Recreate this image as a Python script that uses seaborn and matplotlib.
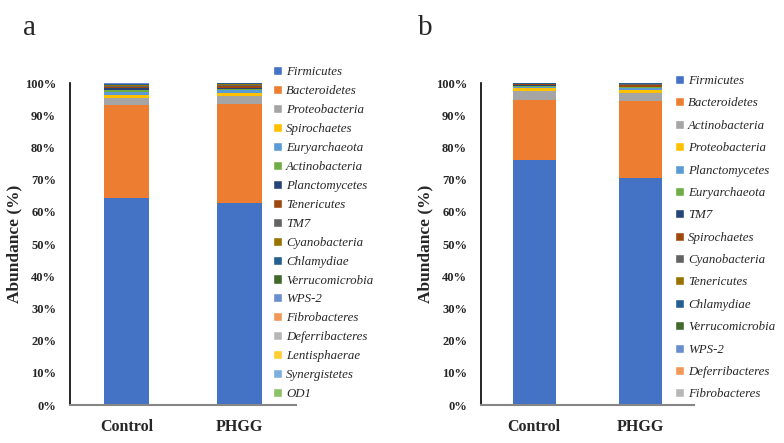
import matplotlib
matplotlib.use('Agg')
import numpy as np
import pandas as pd
import matplotlib.pyplot as plt
import seaborn as sns
from matplotlib.patches import Patch
from matplotlib.ticker import MultipleLocator, PercentFormatter

# groups on the x axis
groups = ['Control', 'PHGG']

# panel a: relative abundance (%) of each phylum
phyla_a = ['Firmicutes', 'Bacteroidetes', 'Proteobacteria', 'Spirochaetes', 'Euryarchaeota',
           'Actinobacteria', 'Planctomycetes', 'Tenericutes', 'TM7', 'Cyanobacteria',
           'Chlamydiae', 'Verrucomicrobia', 'WPS-2', 'Fibrobacteres', 'Deferribacteres',
           'Lentisphaerae', 'Synergistetes', 'OD1']
control_a = [64.4, 28.8, 2.1, 1.0, 0.8, 0.7, 0.5, 0.4, 0.5, 0.3, 0.2, 0.1,
             0.06, 0.05, 0.04, 0.03, 0.01, 0.01]
phgg_a = [62.6, 31.0, 2.5, 0.8, 0.8, 0.5, 0.3, 0.6, 0.4, 0.3, 0.1, 0.05,
          0.02, 0.01, 0.01, 0.005, 0.003, 0.002]

# panel b
phyla_b = ['Firmicutes', 'Bacteroidetes', 'Actinobacteria', 'Proteobacteria', 'Planctomycetes',
           'Euryarchaeota', 'TM7', 'Spirochaetes', 'Cyanobacteria', 'Tenericutes',
           'Chlamydiae', 'Verrucomicrobia', 'WPS-2', 'Deferribacteres', 'Fibrobacteres']
control_b = [76.1, 18.6, 2.9, 0.8, 0.4, 0.3, 0.3, 0.2, 0.1, 0.1, 0.1, 0.05,
             0.03, 0.01, 0.01]
phgg_b = [70.5, 23.9, 2.5, 0.9, 0.5, 0.4, 0.2, 0.5, 0.2, 0.2, 0.1, 0.05,
          0.03, 0.01, 0.01]

# Excel-like series colours, in series order
office = ['#4472C4', '#ED7D31', '#A5A5A5', '#FFC000', '#5B9BD5', '#70AD47',
          '#264478', '#9E480E', '#636363', '#997300', '#255E91', '#43682B',
          '#698ED0', '#F1975A', '#B7B7B7', '#FFCD33', '#7CAFDD', '#8CC168']

sns.set_style('white')
plt.rcParams['font.family'] = ['Liberation Serif', 'DejaVu Serif']

W, H = 784, 443
fig = plt.figure(figsize=(W / 100, H / 100), dpi=100)
ax_a = fig.add_axes([70 / W, 38 / H, 226 / W, 322 / H])
ax_b = fig.add_axes([481 / W, 38 / H, 213 / W, 322 / H])


def stacked(ax, phyla, control, phgg, leg_x, leg_top, spacing):
    df = pd.DataFrame({'phylum': phyla, 'Control': control, 'PHGG': phgg})
    long = df.melt(id_vars='phylum', var_name='group', value_name='pct')
    long['cum'] = long.groupby('group')['pct'].cumsum()
    # tallest stack first, each lower layer paints over it
    for i in reversed(range(len(phyla))):
        sub = long[long['phylum'] == phyla[i]]
        sns.barplot(data=sub, x='group', y='cum', order=groups, color=office[i],
                    width=0.4, saturation=1, errorbar=None, ax=ax, linewidth=0)

    ax.set_ylim(0, 100)
    ax.yaxis.set_major_locator(MultipleLocator(10))
    ax.yaxis.set_major_formatter(PercentFormatter(decimals=0))
    ax.tick_params(length=0, pad=10)
    for lab in ax.get_yticklabels():
        lab.set_fontweight('bold')
        lab.set_fontsize(9)
    for lab in ax.get_xticklabels():
        lab.set_fontweight('bold')
        lab.set_fontsize(11.5)
    ax.set_xlabel('')
    ax.set_ylabel('Abundance (%)', fontsize=12.5, fontweight='bold', labelpad=2)
    sns.despine(ax=ax)
    ax.spines['left'].set_color('black')
    ax.spines['left'].set_linewidth(1.2)
    ax.spines['bottom'].set_color('#868686')
    ax.spines['bottom'].set_linewidth(1.5)

    handles = [Patch(facecolor=office[i], label=p) for i, p in enumerate(phyla)]
    ax.legend(handles=handles, loc='upper left',
              bbox_to_anchor=(leg_x / W, 1 - leg_top / H), bbox_transform=fig.transFigure,
              frameon=False, borderpad=0, borderaxespad=0,
              handlelength=0.7, handleheight=0.7, handletextpad=0.3,
              labelspacing=spacing, prop={'style': 'italic', 'size': 9.3})


stacked(ax_a, phyla_a, control_a, phgg_a, 273, 66, 0.535)
stacked(ax_b, phyla_b, control_b, phgg_b, 675, 75, 0.8)

fig.text(23 / W, 1 - 28 / H, 'a', fontsize=21, va='center', ha='left')
fig.text(418 / W, 1 - 28 / H, 'b', fontsize=21, va='center', ha='left')

fig.savefig('out.png', dpi=100)
